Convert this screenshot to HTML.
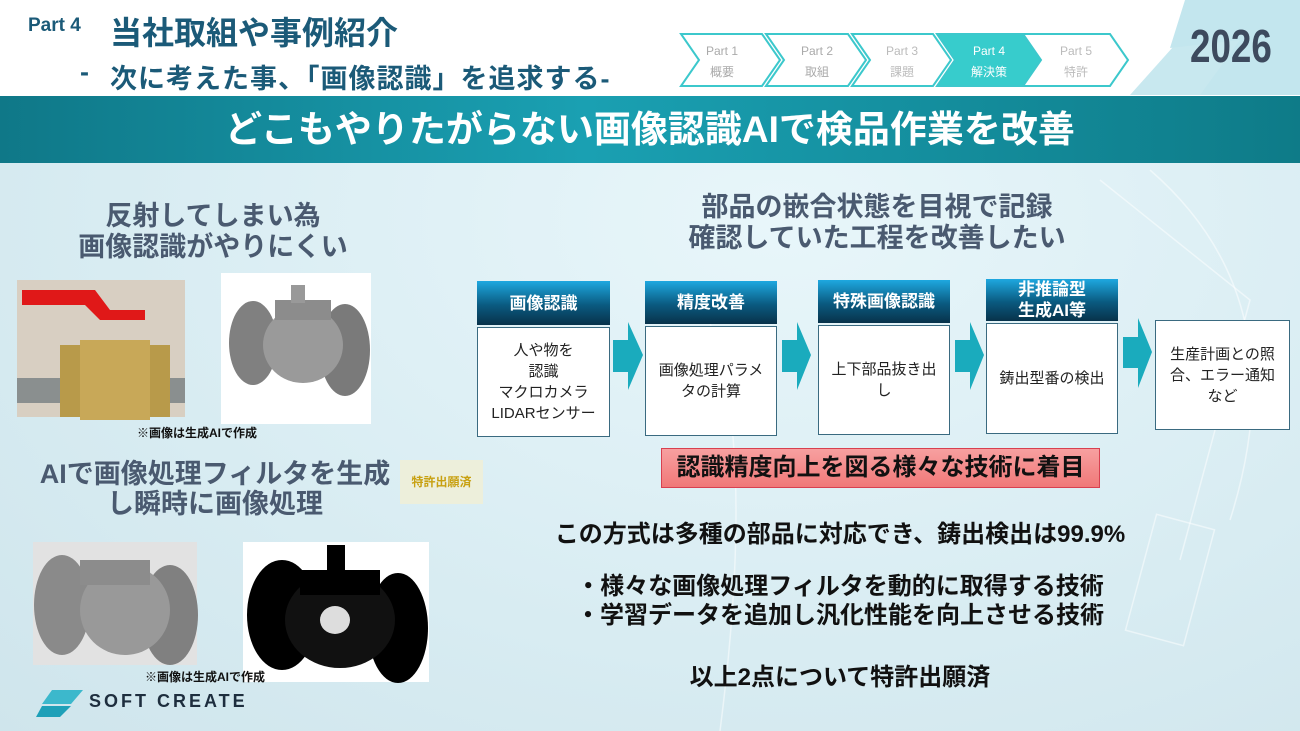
<!DOCTYPE html>
<html><head><meta charset="utf-8"><style>
*{margin:0;padding:0;box-sizing:border-box}
body{width:1300px;height:731px;position:relative;overflow:hidden;background:#fff;font-family:"Liberation Sans","Noto Sans CJK JP",sans-serif}
.a{position:absolute}
.c{text-align:center;white-space:nowrap}
.hd{color:#fff;font-weight:bold;font-size:17px;display:flex;align-items:center;justify-content:center;text-align:center;line-height:21px;background:linear-gradient(#1ea8e0,#0a5a80 55%,#08324a)}
.bd{background:#fff;border:1.5px solid #3a6a80;font-size:15px;color:#222;display:flex;align-items:center;justify-content:center;text-align:center;line-height:21px}
</style></head><body>
<div class="a" style="left:0;top:163px;width:1300px;height:568px;background:radial-gradient(ellipse at 60% 10%,#e8f6fa,#d8ecf2 60%,#cfe5ec)"></div>
<svg class="a" style="left:0;top:0" width="1300" height="731">
<polygon points="1215,0 1300,0 1240,95 1130,95" fill="#c8e8ef"/>
<polygon points="1185,0 1300,0 1300,95 1200,95 1240,40 1170,48" fill="#c3e6ee"/>
<g fill="none" stroke="#fff" stroke-opacity=".5" stroke-width="1.5">
<path d="M1100,180 L1250,300 L1180,560"/><path d="M1150,170 Q1300,300 1230,520"/>
<rect x="1140" y="520" width="60" height="120" transform="rotate(15 1170 580)"/>
<path d="M700,300 Q760,420 720,731"/>
</g>
<g stroke="#3cc8cc" stroke-width="2" fill="#fff">
<polygon points="681,34 762,34 780,60 762,86 681,86 699,60"/>
<polygon points="766,34 848,34 866,60 848,86 766,86 784,60"/>
<polygon points="852,34 933,34 951,60 933,86 852,86 870,60"/>
<polygon points="937,34 1023,34 1041,60 1023,86 937,86 955,60" fill="#37cccc"/>
<polygon points="1023,34 1110,34 1128,60 1110,86 1023,86 1041,60"/>
</g>
<g fill="#1aabbd">
<polygon points="613,340 628,340 628,322 643,355 628,390 628,372 613,372"/>
<polygon points="782,340 797,340 797,322 811,355 797,390 797,372 782,372"/>
<polygon points="955,340 970,340 970,322 984,355 970,390 970,372 955,372"/>
<polygon points="1123,337 1138,337 1138,318 1152,352 1138,388 1138,368 1123,368"/>
</g>
<rect x="17" y="280" width="168" height="137" fill="#d8cfc2"/>
<rect x="17" y="378" width="168" height="25" fill="#8a8f8f"/>
<rect x="60" y="345" width="110" height="72" fill="#b89a4a"/>
<rect x="80" y="340" width="70" height="80" fill="#c8a858"/>
<path d="M22,290 L95,290 L110,310 L145,310 L145,320 L100,320 L85,305 L22,305Z" fill="#e01818"/>
<rect x="221" y="273" width="150" height="151" fill="#fff"/>
<ellipse cx="253" cy="343" rx="24" ry="42" fill="#808080"/>
<ellipse cx="345" cy="350" rx="25" ry="46" fill="#7a7a7a"/>
<ellipse cx="303" cy="345" rx="40" ry="38" fill="#9a9a9a"/>
<rect x="275" y="300" width="56" height="20" fill="#8c8c8c"/><rect x="291" y="285" width="14" height="18" fill="#999"/>
<rect x="33" y="542" width="164" height="123" fill="#e2e2e2"/>
<ellipse cx="62" cy="605" rx="28" ry="50" fill="#8a8a8a"/>
<ellipse cx="170" cy="615" rx="28" ry="50" fill="#808080"/>
<ellipse cx="125" cy="610" rx="45" ry="45" fill="#999"/>
<rect x="80" y="560" width="70" height="25" fill="#8c8c8c"/>
<rect x="243" y="542" width="186" height="140" fill="#fff"/>
<ellipse cx="282" cy="615" rx="35" ry="55" fill="#000"/>
<ellipse cx="398" cy="628" rx="30" ry="55" fill="#000"/>
<ellipse cx="340" cy="620" rx="55" ry="48" fill="#111"/>
<ellipse cx="335" cy="620" rx="15" ry="14" fill="#ddd"/>
<rect x="300" y="570" width="80" height="25" fill="#000"/><rect x="327" y="545" width="18" height="28" fill="#000"/>
<rect x="400" y="460" width="83" height="44" fill="#eeeed8" opacity=".9"/>
<polygon points="52,690 83,690 71,704 42,704" fill="#3cb8cc"/>
<polygon points="42,706 71,706 60,717 36,717" fill="#1ea0b8"/>
</svg>
<div class="a" style="left:28px;top:15px;font-size:19px;font-weight:bold;color:#1b5a78">Part 4</div>
<div class="a" style="left:110px;top:8px;font-size:32px;font-weight:bold;color:#1b5a78;white-space:nowrap">当社取組や事例紹介</div>
<div class="a" style="left:80px;top:57px;font-size:27px;font-weight:bold;color:#1b5a78;white-space:nowrap">-</div>
<div class="a" style="left:110px;top:57px;font-size:27px;font-weight:bold;color:#1b5a78;white-space:nowrap;letter-spacing:1px">次に考えた事、「画像認識」を追求する-</div>
<div class="a c" style="left:682px;top:41px;width:80px;font-size:12px;color:#aaa;line-height:21px">Part 1<br>概要</div>
<div class="a c" style="left:768px;top:41px;width:98px;font-size:12px;color:#aaa;line-height:21px">Part 2<br>取組</div>
<div class="a c" style="left:853px;top:41px;width:98px;font-size:12px;color:#bbb;line-height:21px">Part 3<br>課題</div>
<div class="a c" style="left:939px;top:41px;width:100px;font-size:12px;color:#fff;line-height:21px">Part 4<br>解決策</div>
<div class="a c" style="left:1025px;top:41px;width:102px;font-size:12px;color:#bbb;line-height:21px">Part 5<br>特許</div>
<div class="a" style="left:1190px;top:19px;font-size:46px;font-weight:bold;color:#3d4a5e;transform:scaleX(.8);transform-origin:left">2026</div>
<div class="a c" style="left:0;top:96px;width:1300px;height:67px;background:linear-gradient(90deg,#0f7888,#1aa0b2 45%,#0e7b88);color:#fff;font-size:37px;font-weight:bold;line-height:67px">どこもやりたがらない画像認識AIで検品作業を改善</div>
<div class="a c" style="left:63px;top:201px;width:300px;font-size:27px;font-weight:bold;color:#4a5a70;line-height:31px">反射してしまい為<br>画像認識がやりにくい</div>
<div class="a" style="left:137px;top:424px;font-size:12px;font-weight:bold;color:#111">※画像は生成AIで作成</div>
<div class="a c" style="left:30px;top:459px;width:370px;font-size:27px;font-weight:bold;color:#4a5a70;line-height:30px">AIで画像処理フィルタを生成<br>し瞬時に画像処理</div>
<div class="a c" style="left:400px;top:473px;width:83px;font-size:12px;font-weight:bold;color:#c8a010">特許出願済</div>
<div class="a" style="left:145px;top:668px;font-size:12px;font-weight:bold;color:#111">※画像は生成AIで作成</div>
<div class="a" style="left:89px;top:691px;font-size:18px;font-weight:bold;color:#1e2e3e;letter-spacing:3px">SOFT CREATE</div>
<div class="a c" style="left:627px;top:192px;width:500px;font-size:27px;font-weight:bold;color:#4a5a70;line-height:31px">部品の嵌合状態を目視で記録<br>確認していた工程を改善したい</div>
<div class="a hd" style="left:477px;top:281px;width:133px;height:44px">画像認識</div>
<div class="a bd" style="left:477px;top:327px;width:133px;height:110px">人や物を<br>認識<br>マクロカメラ<br>LIDARセンサー</div>
<div class="a hd" style="left:645px;top:281px;width:132px;height:43px">精度改善</div>
<div class="a bd" style="left:645px;top:326px;width:132px;height:110px">画像処理パラメ<br>タの計算</div>
<div class="a hd" style="left:818px;top:280px;width:132px;height:43px">特殊画像認識</div>
<div class="a bd" style="left:818px;top:325px;width:132px;height:110px">上下部品抜き出<br>し</div>
<div class="a hd" style="left:986px;top:279px;width:132px;height:42px">非推論型<br>生成AI等</div>
<div class="a bd" style="left:986px;top:323px;width:132px;height:111px">鋳出型番の検出</div>
<div class="a bd" style="left:1155px;top:320px;width:135px;height:110px">生産計画との照<br>合、エラー通知<br>など</div>
<div class="a c" style="left:661px;top:448px;width:439px;height:40px;background:linear-gradient(#f7a0a0,#f07878);border:1.5px solid #d84050;font-size:24px;font-weight:bold;color:#111;line-height:37px">認識精度向上を図る様々な技術に着目</div>
<div class="a c" style="left:490px;top:514px;width:700px;font-size:24px;font-weight:bold;color:#111">この方式は多種の部品に対応でき、鋳出検出は99.9%</div>
<div class="a c" style="left:490px;top:572px;width:700px;font-size:24px;font-weight:bold;color:#111;line-height:29px">・様々な画像処理フィルタを動的に取得する技術<br>・学習データを追加し汎化性能を向上させる技術</div>
<div class="a c" style="left:490px;top:657px;width:700px;font-size:24px;font-weight:bold;color:#111">以上2点について特許出願済</div>
</body></html>
